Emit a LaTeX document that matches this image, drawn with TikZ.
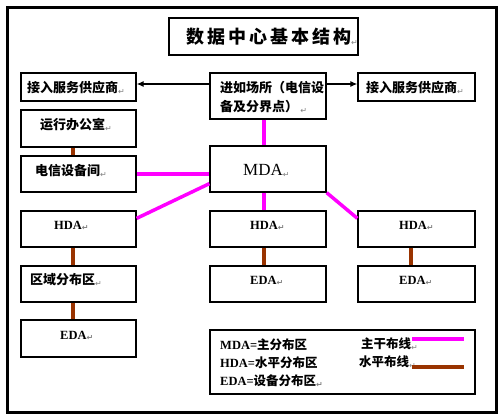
\documentclass[tikz,border=0pt]{standalone}
\usepackage{fontspec}
\setmainfont{Liberation Serif}
\newfontfamily\cjk{Noto Sans CJK SC}
\newfontfamily\symf{DejaVu Sans}
\usetikzlibrary{arrows.meta}
\definecolor{mag}{RGB}{255,0,255}
\definecolor{brn}{RGB}{153,51,0}
\newcommand\parmk{{\symf\fontsize{8}{8}\selectfont\color{gray}\raisebox{-1.5pt}{↵}}}
\newcommand\zh[1]{{\cjk\bfseries #1}}
\begin{document}
\begin{tikzpicture}[x=1pt,y=-1pt,
  box/.style={draw,line width=1.3pt,inner sep=0pt},
  txt/.style={inner sep=0pt,font=\fontsize{13}{16}\selectfont},
  trunk/.style={draw=mag,line width=3.5pt},
  horiz/.style={draw=brn,line width=3.5pt},
  arr/.style={draw,line width=1.2pt,-{Latex[length=7pt,width=6pt]}}]
\useasboundingbox (0,0) rectangle (500,418);
\draw[line width=2.5pt] (7.5,7.5) rectangle (496.5,412.5);
% boxes
\node[box,minimum width=189pt,minimum height=37pt] (title) at (263.5,36.5) {};
\node[box,minimum width=115pt,minimum height=28pt] (prl) at (78.5,87) {};
\node[box,minimum width=116pt,minimum height=46pt] (ctr) at (268,96) {};
\node[box,minimum width=117pt,minimum height=28pt] (prr) at (416.5,87) {};
\node[box,minimum width=115pt,minimum height=37pt] (ops) at (78.5,128.5) {};
\node[box,minimum width=115pt,minimum height=36pt] (tel) at (78.5,174) {};
\node[box,minimum width=116pt,minimum height=46pt] (mda) at (268,169) {};
\node[box,minimum width=115pt,minimum height=36pt] (hdal) at (78.5,229) {};
\node[box,minimum width=116pt,minimum height=36pt] (hdam) at (268,229) {};
\node[box,minimum width=117pt,minimum height=36pt] (hdar) at (416.5,229) {};
\node[box,minimum width=115pt,minimum height=36pt] (zda) at (78.5,284) {};
\node[box,minimum width=116pt,minimum height=36pt] (edam) at (268,284) {};
\node[box,minimum width=117pt,minimum height=36pt] (edar) at (416.5,284) {};
\node[box,minimum width=115pt,minimum height=37pt] (edal) at (78.5,338.5) {};
\node[box,minimum width=265pt,minimum height=64pt] (leg) at (342.5,362) {};
% texts
\node[txt,anchor=west,font=\fontsize{18}{20}\selectfont] (tt) at (186,37) {\zh{数\,据\,中\,心\,基\,本\,结\,构}\parmk};
\node[txt,anchor=west] (t1) at (27,88) {\zh{接入服务供应商}\parmk};
\node[txt,anchor=west] (t2) at (366,88) {\zh{接入服务供应商}\parmk};
\node[txt,anchor=west] (t3) at (220,88) {\zh{进如场所（电信设}};
\node[txt,anchor=west] (t4) at (220,107) {\zh{备及分界点）}\,\parmk};
\node[txt,anchor=west] (t5) at (40,125) {\zh{运行办公室}\parmk};
\node[txt,anchor=west] (t6) at (35,171) {\zh{电信设备间}\parmk};
\node[txt,anchor=west,font=\fontsize{17}{18}\selectfont] (t7) at (243,171) {MDA\parmk};
\node[txt,anchor=west,font=\fontsize{12.5}{14}\selectfont\bfseries] (t8) at (54,226) {HDA\parmk};
\node[txt,anchor=west,font=\fontsize{12.5}{14}\selectfont\bfseries] (t9) at (250,226) {HDA\parmk};
\node[txt,anchor=west,font=\fontsize{12.5}{14}\selectfont\bfseries] (t10) at (399,226) {HDA\parmk};
\node[txt,anchor=west] (t11) at (30,280) {\zh{区域分布区}\parmk};
\node[txt,anchor=west,font=\fontsize{12.5}{14}\selectfont\bfseries] (t12) at (250,281) {EDA\parmk};
\node[txt,anchor=west,font=\fontsize{12.5}{14}\selectfont\bfseries] (t13) at (399,281) {EDA\parmk};
\node[txt,anchor=west,font=\fontsize{12.5}{14}\selectfont\bfseries] (t14) at (60,336) {EDA\parmk};
\node[txt,anchor=west,font=\fontsize{12.5}{14}\selectfont\bfseries] (l1) at (220,345) {MDA=\zh{主分布区}};
\node[txt,anchor=west,font=\fontsize{12.5}{14}\selectfont\bfseries] (l2) at (220,363) {HDA=\zh{水平分布区}};
\node[txt,anchor=west,font=\fontsize{12.5}{14}\selectfont\bfseries] (l3) at (220,381) {EDA=\zh{设备分布区}\parmk};
\node[txt,anchor=west,font=\fontsize{12.5}{14}\selectfont] (l4) at (361,344) {\zh{主干布线}\parmk};
\node[txt,anchor=west,font=\fontsize{12.5}{14}\selectfont] (l5) at (359,362) {\zh{水平布线}\parmk};
\coordinate (m1) at (412,339); \coordinate (m2) at (464,339);
\coordinate (b1) at (412,367); \coordinate (b2) at (464,367);
% arrows
\draw[arr] ([yshift=12pt]ctr.west) -- ([yshift=12pt]ctr.west -| prl.east);
\draw[arr] ([yshift=12pt]ctr.east) -- ([yshift=12pt]ctr.east -| prr.west);
% trunk cabling
\draw[trunk] ([xshift=-4pt]ctr.south) -- ([xshift=-4pt]mda.north);
\draw[trunk] (tel.east) -- (tel.east -| mda.west);
\draw[trunk] ([yshift=-8pt]hdal.north east) -- ([yshift=9pt]mda.south west);
\draw[trunk] ([xshift=-4pt]mda.south) -- ([xshift=-4pt]hdam.north);
\draw[trunk] (mda.south east) -- ([yshift=-8pt]hdar.north west);
\draw[trunk] (m1) -- (m2);
% horizontal cabling
\draw[horiz] ([xshift=-5.5pt]ops.south) -- ([xshift=-5.5pt]tel.north);
\draw[horiz] ([xshift=-5.5pt]hdal.south) -- ([xshift=-5.5pt]zda.north);
\draw[horiz] ([xshift=-5.5pt]zda.south) -- ([xshift=-5.5pt]edal.north);
\draw[horiz] ([xshift=-4pt]hdam.south) -- ([xshift=-4pt]edam.north);
\draw[horiz] ([xshift=-5.5pt]hdar.south) -- ([xshift=-5.5pt]edar.north);
\draw[horiz] (b1) -- (b2);
\end{tikzpicture}
\end{document}
